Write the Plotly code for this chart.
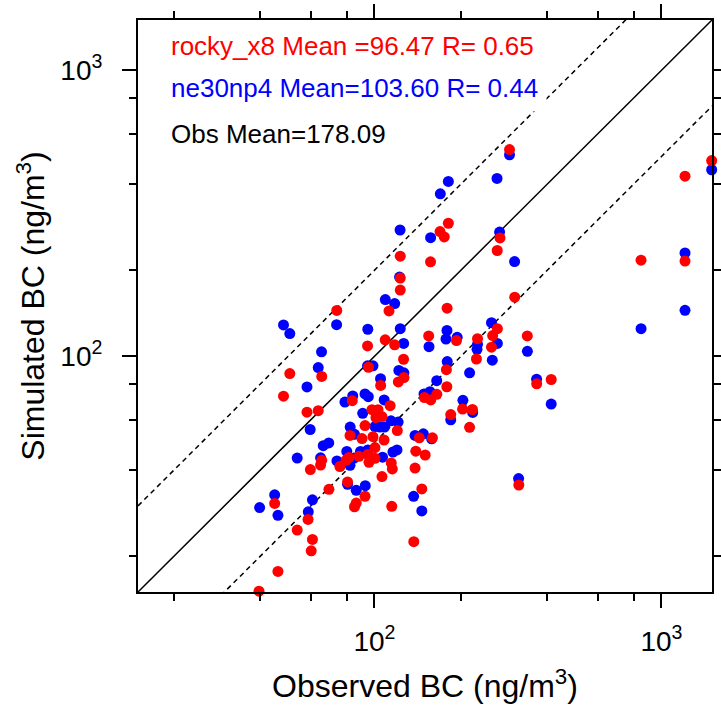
import math
import plotly.graph_objects as go

# ---------------- data ----------------
obs_rocky = [39.6, 46.1, 53.8, 60.2, 60.8, 58.7, 44.9, 48.2, 50.7, 58.2,
             63.7, 65.5, 59.8, 65.5, 64.9, 69.4, 73.9, 75.8, 79.6, 80.6,
             81.5, 82.2, 83.7, 85.2, 86.4, 88.3, 90.5, 92.7, 92.7, 94.6,
             94.9, 95.3, 95.7, 98.0, 98.8, 100.4, 100.4, 101.2, 102.9, 105.1,
             106.2, 106.2, 108.0, 109.0, 112.4, 113.4, 114.4, 114.9, 115.4, 117.6,
             120.1, 121.1, 123.0, 123.0, 123.0, 126.3, 126.7, 137.1, 138.5, 139.3,
             143.3, 146.2, 149.3, 150.2, 154.5, 156.8, 157.1, 159.2, 164.9, 169.2,
             175.1, 178.1, 178.7, 179.1, 180.9, 184.4, 193.1, 202.8, 214.5, 219.5,
             226.6, 228.6, 255.7, 258.2, 268.1, 267.8, 273.8, 295.5, 308.1, 318.4,
             340.8, 367.5, 412.9, 848.8, 1208.0, 1208.0, 1496.0]
rocky_x8 = [15.1, 17.7, 24.7, 20.9, 22.9, 26.9, 30.6, 72.6, 87.1, 63.8,
            64.6, 85.1, 40.2, 43.3, 41.7, 34.3, 144.8, 41.2, 43.3, 36.4,
            44.3, 52.9, 70.0, 29.8, 30.7, 44.7, 51.6, 32.4, 57.3, 108.8,
            45.4, 91.6, 42.6, 65.1, 52.4, 48.0, 44.0, 61.1, 65.1, 79.1,
            61.6, 38.0, 51.0, 114.2, 144.1, 67.2, 42.4, 29.9, 40.4, 109.7,
            55.0, 81.4, 224.0, 187.8, 170.5, 97.7, 84.3, 22.5, 40.7, 46.6,
            51.9, 34.4, 71.8, 45.2, 117.9, 214.0, 70.4, 51.9, 73.7, 273.2,
            261.6, 89.8, 78.3, 147.4, 292.0, 62.6, 113.6, 65.4, 56.5, 65.2,
            97.9, 115.3, 107.7, 118.2, 125.0, 234.5, 259.5, 528.7, 161.1, 35.5,
            117.9, 80.2, 83.0, 217.0, 426.7, 215.3, 483.9]

obs_ne30 = [295.5, 1496.0, 1208.0, 1208.0, 849.0, 267.3, 272.9, 180.9, 169.6, 156.9,
            122.8, 122.3, 307.8, 109.1, 117.6, 73.8, 48.2, 50.7, 94.8, 123.0,
            126.4, 154.9, 178.9, 177.5, 194.2, 179.3, 228.6, 227.7, 255.7, 268.0,
            257.4, 341.1, 214.5, 367.2, 412.9, 317.9, 65.4, 63.7, 58.2, 94.6,
            98.8, 105.0, 121.6, 126.6, 164.8, 148.8, 156.1, 108.1, 203.3, 219.9,
            184.4, 84.0, 78.9, 92.7, 95.2, 91.0, 138.5, 148.0, 158.2, 82.3,
            59.7, 66.3, 69.3, 53.8, 64.9, 74.0, 82.2, 80.6, 92.9, 86.4,
            44.9, 39.8, 46.1, 60.8, 58.8, 106.7, 116.0, 119.8, 100.4, 104.5,
            108.4, 114.2, 120.9, 85.2, 80.1, 89.4, 94.8, 84.9, 96.5, 146.2,
            136.9]
ne30np4 = [506.7, 449.2, 230.0, 144.9, 125.0, 419.0, 272.0, 408.9, 370.0, 260.1,
           276.6, 189.3, 214.5, 157.9, 152.9, 129.1, 128.8, 120.1, 124.4, 125.0,
           111.0, 108.1, 123.2, 114.9, 116.6, 95.9, 110.2, 105.8, 131.1, 111.0,
           97.0, 104.1, 87.6, 83.2, 68.1, 37.4, 103.7, 91.4, 78.2, 92.7,
           92.7, 83.5, 89.3, 87.6, 82.2, 73.9, 75.2, 70.4, 70.2, 63.7,
           60.0, 72.7, 69.2, 73.9, 72.3, 63.2, 52.9, 53.6, 51.5, 56.6,
           55.5, 48.7, 49.8, 44.1, 44.2, 43.1, 41.6, 35.7, 35.3, 34.0,
           32.8, 29.6, 27.8, 31.5, 28.6, 44.4, 46.3, 47.1, 56.8, 56.6,
           56.6, 59.5, 58.9, 53.4, 46.5, 46.5, 47.1, 44.1, 44.0, 28.8,
           32.4]

axis_min, axis_max = 15, 1500
major_ticks = [100, 1000]
major_text = ["10<sup>2</sup>", "10<sup>3</sup>"]
minor_ticks = [20, 40, 60, 80, 200, 400, 600, 800]

labels = [
    ("rocky_x8 Mean =96.47 R= 0.65", "#ff0000"),
    ("ne30np4 Mean=103.60 R= 0.44", "#0000ff"),
    ("Obs Mean=178.09", "#000000"),
]

FONT = "Liberation Sans, Arial, Helvetica, sans-serif"

fig = go.Figure()

# reference lines 1:1, 2:1, 1:2
ref_x = [axis_min, axis_max]
fig.add_trace(go.Scatter(x=ref_x, y=[v for v in ref_x], mode="lines",
                         line=dict(color="black", width=1.5), hoverinfo="skip"))
fig.add_trace(go.Scatter(x=ref_x, y=[2 * v for v in ref_x], mode="lines",
                         line=dict(color="black", width=1.5, dash="5px,4px"), hoverinfo="skip"))
fig.add_trace(go.Scatter(x=ref_x, y=[v / 2 for v in ref_x], mode="lines",
                         line=dict(color="black", width=1.5, dash="5px,4px"), hoverinfo="skip"))

fig.add_trace(go.Scatter(x=obs_ne30, y=ne30np4, mode="markers", cliponaxis=False,
                         marker=dict(color="#0000ff", size=11, line=dict(width=0))))
fig.add_trace(go.Scatter(x=obs_rocky, y=rocky_x8, mode="markers", cliponaxis=False,
                         marker=dict(color="#ff0000", size=11, line=dict(width=0))))

axis_common = dict(
    type="log",
    range=[math.log10(axis_min), math.log10(axis_max)],
    automargin=False,
    tickmode="array", tickvals=major_ticks, ticktext=major_text,
    ticks="outside", ticklen=14, tickwidth=1.5, tickcolor="black",
    showline=True, linecolor="black", linewidth=2, mirror="ticks",
    showgrid=False, zeroline=False,
    tickfont=dict(size=28, color="black", family=FONT),
    minor=dict(tickmode="array", tickvals=minor_ticks, ticks="outside",
               ticklen=7, tickwidth=1.5, tickcolor="black", showgrid=False),
)

fig.update_layout(
    width=721, height=707,
    margin=dict(l=138, r=9, t=20, b=115, autoexpand=False),
    paper_bgcolor="white", plot_bgcolor="white",
    showlegend=False,
    font=dict(family=FONT, color="black"),
    xaxis=dict(axis_common, ticklabelstandoff=9,
               title=dict(text="Observed BC (ng/m<sup>3</sup>)",
                          font=dict(size=32, family=FONT), standoff=19)),
    yaxis=dict(axis_common, ticklabelstandoff=14,
               title=dict(text="Simulated BC (ng/m<sup>3</sup>)",
                          font=dict(size=32, family=FONT), standoff=6)),
)

ys = [0.9545, 0.8811, 0.8007]
for (txt, col), yy in zip(labels, ys):
    boxed = col == "#0000ff"
    fig.add_annotation(x=0.0557, y=yy, xref="paper", yref="paper",
                       xanchor="left", yanchor="middle", showarrow=False,
                       text=txt, font=dict(size=26, color=col, family=FONT),
                       bgcolor="white" if boxed else None,
                       borderpad=8 if boxed else 0,
                       xshift=-8 if boxed else 0)

fig.write_html("out.html", config={"displayModeBar": False},
               post_script="document.body.style.margin='0px';")
